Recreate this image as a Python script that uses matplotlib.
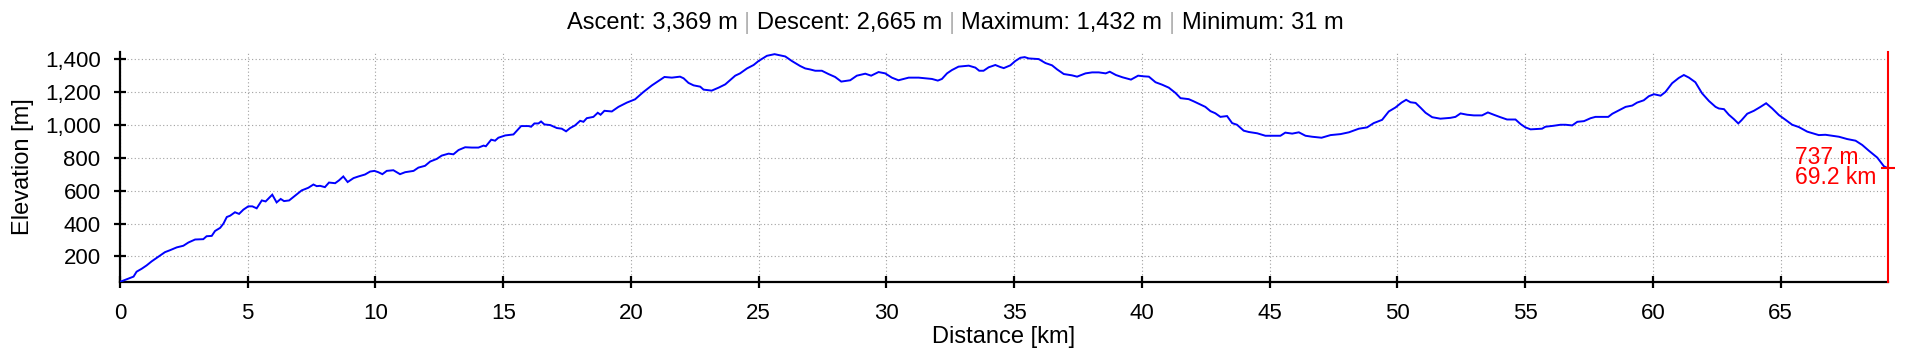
import matplotlib
matplotlib.use("Agg")
import matplotlib.pyplot as plt
from matplotlib.ticker import FuncFormatter

# ---------------- data ----------------
distance_km = [
    0.00, 0.26, 0.53, 0.65, 0.85, 1.04, 1.24, 1.50, 1.76, 1.96, 2.22, 2.48, 2.68, 2.94,
    3.26, 3.39, 3.59, 3.72, 3.92, 4.05, 4.18, 4.31, 4.50, 4.66, 4.83, 5.02, 5.18, 5.35,
    5.55, 5.70, 5.96, 6.13, 6.29, 6.42, 6.62, 6.85, 7.11, 7.37, 7.57, 7.70, 7.83, 8.02,
    8.18, 8.42, 8.57, 8.74, 8.91, 9.14, 9.33, 9.59, 9.79, 9.96, 10.11, 10.27, 10.44,
    10.70, 10.96, 11.16, 11.49, 11.68, 11.94, 12.14, 12.40, 12.59, 12.86, 13.05, 13.25,
    13.51, 13.77, 14.03, 14.23, 14.32, 14.53, 14.68, 14.81, 15.08, 15.40, 15.70, 15.99,
    16.09, 16.22, 16.38, 16.48, 16.61, 16.84, 17.10, 17.29, 17.46, 17.62, 17.81, 18.01,
    18.14, 18.27, 18.53, 18.70, 18.81, 18.96, 19.25, 19.51, 19.84, 20.16, 20.49, 20.82,
    21.08, 21.31, 21.60, 21.92, 22.06, 22.25, 22.45, 22.71, 22.84, 23.16, 23.43, 23.69,
    24.08, 24.27, 24.54, 24.80, 24.99, 25.32, 25.62, 25.84, 26.04, 26.30, 26.62, 26.82,
    27.01, 27.21, 27.47, 27.73, 27.99, 28.23, 28.58, 28.84, 29.17, 29.40, 29.69, 29.95,
    30.21, 30.47, 30.87, 31.26, 31.78, 32.01, 32.17, 32.37, 32.56, 32.82, 33.22, 33.48,
    33.63, 33.80, 34.00, 34.26, 34.45, 34.59, 34.85, 35.04, 35.24, 35.41, 35.57, 35.96,
    36.22, 36.48, 36.68, 36.94, 37.26, 37.46, 37.79, 38.05, 38.31, 38.58, 38.74, 38.98,
    39.24, 39.57, 39.85, 40.07, 40.27, 40.53, 40.79, 41.05, 41.31, 41.51, 41.83, 42.02,
    42.29, 42.48, 42.68, 42.87, 43.07, 43.33, 43.53, 43.72, 43.98, 44.18, 44.51, 44.83,
    45.42, 45.61, 45.88, 46.14, 46.40, 46.66, 47.03, 47.38, 47.77, 48.10, 48.49, 48.81,
    49.07, 49.40, 49.66, 49.92, 50.16, 50.34, 50.51, 50.71, 50.91, 51.10, 51.36, 51.68,
    52.07, 52.27, 52.47, 52.73, 52.99, 53.31, 53.54, 53.77, 54.03, 54.29, 54.62, 54.82,
    55.01, 55.21, 55.66, 55.79, 56.12, 56.38, 56.58, 56.84, 57.04, 57.30, 57.56, 57.75,
    58.25, 58.41, 58.66, 58.93, 59.19, 59.38, 59.64, 59.84, 60.04, 60.30, 60.49, 60.75,
    61.01, 61.21, 61.41, 61.66, 61.92, 62.19, 62.45, 62.58, 62.78, 62.97, 63.17, 63.34,
    63.47, 63.69, 63.95, 64.21, 64.43, 64.67, 64.93, 65.19, 65.45, 65.71, 66.04, 66.49,
    66.75, 67.28, 67.60, 67.93, 68.19, 68.45, 68.78, 69.04, 69.20,
]
elevation_m = [
    45, 61, 77, 107, 125, 145, 170, 198, 226, 238, 255, 265, 285, 303,
    305, 323, 325, 355, 374, 400, 440, 448, 469, 459, 485, 505, 505, 493,
    541, 535, 576, 529, 550, 537, 541, 570, 602, 618, 638, 628, 630, 622,
    650, 646, 663, 687, 653, 677, 687, 699, 717, 721, 713, 701, 721,
    725, 701, 713, 721, 741, 752, 778, 794, 814, 826, 822, 848,
    865, 863, 863, 875, 871, 911, 905, 923, 937, 943, 994, 994,
    990, 1010, 1010, 1022, 1004, 1000, 982, 978, 962, 982, 998, 1026,
    1020, 1042, 1050, 1075, 1063, 1087, 1083, 1111, 1137, 1157, 1202, 1242,
    1269, 1293, 1289, 1295, 1285, 1257, 1242, 1234, 1216, 1210, 1228, 1248,
    1301, 1315, 1345, 1366, 1390, 1422, 1432, 1425, 1418, 1390, 1360, 1345,
    1339, 1331, 1331, 1311, 1293, 1265, 1273, 1301, 1313, 1301, 1323, 1315,
    1289, 1273, 1289, 1289, 1281, 1271, 1281, 1315, 1335, 1356, 1362, 1350,
    1331, 1331, 1352, 1366, 1354, 1347, 1364, 1390, 1410, 1414, 1406, 1402,
    1378, 1364, 1339, 1311, 1303, 1295, 1315, 1321, 1321, 1315, 1325, 1305,
    1291, 1277, 1301, 1297, 1295, 1261, 1246, 1228, 1196, 1164, 1158, 1145,
    1125, 1111, 1085, 1072, 1050, 1055, 1012, 1002, 966, 958, 950, 935,
    935, 954, 948, 956, 935, 929, 923, 939, 945, 956, 978, 986,
    1012, 1032, 1083, 1107, 1137, 1154, 1139, 1135, 1105, 1075, 1048, 1039,
    1044, 1050, 1071, 1063, 1059, 1059, 1077, 1063, 1048, 1034, 1034, 1006,
    986, 974, 978, 990, 996, 1002, 1002, 998, 1020, 1024, 1042, 1050,
    1050, 1069, 1089, 1111, 1119, 1137, 1151, 1176, 1188, 1179, 1202, 1255,
    1287, 1305, 1289, 1261, 1194, 1147, 1111, 1101, 1097, 1063, 1036, 1010,
    1030, 1069, 1087, 1111, 1133, 1101, 1061, 1032, 1002, 988, 960, 939,
    941, 929, 915, 905, 879, 844, 802, 749, 737,
]

cursor_km = 69.2
cursor_m = 737
cursor_labels = ["737 m", "69.2 km"]
x_ticks = [0, 5, 10, 15, 20, 25, 30, 35, 40, 45, 50, 55, 60, 65]
y_ticks = [200, 400, 600, 800, 1000, 1200, 1400]
title_parts = ["Ascent: 3,369 m", "Descent: 2,665 m", "Maximum: 1,432 m", "Minimum: 31 m"]
x_label = "Distance [km]"
y_label = "Elevation [m]"

# ---------------- figure ----------------
plt.rcParams['font.family'] = ['Liberation Sans', 'DejaVu Sans']
FS_TICK = 16
FS_TEXT = 17
FS_CURSOR = 16.5
W, H = 1910, 361
fig = plt.figure(figsize=(W / 100, H / 100), dpi=100)
fig.patch.set_facecolor('white')

left_px, right_px, top_px, bottom_px = 120, 1888, 51.7, 281.7
ax = fig.add_axes([left_px / W, (H - bottom_px) / H,
                   (right_px - left_px) / W, (bottom_px - top_px) / H])

ax.plot(distance_km, elevation_m, color='#0000ff', lw=1.4, solid_joinstyle='miter', zorder=3)

ax.set_xlim(0, cursor_km)
ax.set_ylim(46, 1447)
ax.set_xticks(x_ticks)
ax.set_yticks(y_ticks)
ax.yaxis.set_major_formatter(FuncFormatter(lambda v, p: f"{int(v):,}"))

for s in ['top', 'right']:
    ax.spines[s].set_visible(False)
for s in ['left', 'bottom']:
    ax.spines[s].set_linewidth(1.6)
    ax.spines[s].set_color('black')

ax.tick_params(axis='both', direction='inout', length=9, width=1.6, labelsize=FS_TICK, colors='black')
ax.tick_params(axis='y', pad=9.5)
ax.tick_params(axis='x', pad=10.5)

ax.grid(True, color='#a0a0a0', linestyle=(0, (1, 2.2)), linewidth=0.8)
ax.set_axisbelow(True)

# cursor line and marker
ax.axvline(cursor_km, color='#ff0000', lw=1.5, zorder=4, clip_on=False)
ax.plot([cursor_km], [cursor_m], marker='_', color='#ff0000', markersize=10,
        markeredgewidth=1.5, clip_on=False, zorder=5)
ax.annotate(cursor_labels[0], (cursor_km, cursor_m), xytext=(-93, 4),
            textcoords='offset pixels', ha='left', va='baseline', color='#ff0000',
            fontsize=FS_CURSOR, annotation_clip=False)
ax.annotate(cursor_labels[1], (cursor_km, cursor_m), xytext=(-93, -16),
            textcoords='offset pixels', ha='left', va='baseline', color='#ff0000',
            fontsize=FS_CURSOR, annotation_clip=False)

ax.set_xlabel(x_label, fontsize=FS_TEXT, va='baseline')
ax.xaxis.set_label_coords(0.5, -(343 - bottom_px) / (bottom_px - top_px))
ax.set_ylabel(y_label, fontsize=FS_TEXT, va='center')
ax.yaxis.set_label_coords(-(left_px - 22.7) / (right_px - left_px), 0.5)

# ---------------- title with gray separators ----------------
renderer = fig.canvas.get_renderer()
sep = "|"
full = (" " + sep + " ").join(title_parts)


def text_width(s):
    t = fig.text(0, 0, s, fontsize=FS_TEXT)
    w = t.get_window_extent(renderer=renderer).width
    t.remove()
    return w


pieces = []
prefix = ""
for i, part in enumerate(title_parts):
    if i > 0:
        prefix_sep = prefix + " "
        w_all = text_width(prefix_sep + sep)
        pieces.append((sep, w_all - text_width(sep), '#b4b4b4'))
        prefix = prefix_sep + sep + " "
    w_all = text_width(prefix + part)
    pieces.append((part, w_all - text_width(part), 'black'))
    prefix = prefix + part

total_w = text_width(full)
x0 = W / 2 - total_w / 2
title_baseline = 29
for s, off, col in pieces:
    fig.text((x0 + off) / W, (H - title_baseline) / H, s, fontsize=FS_TEXT,
             color=col, ha='left', va='baseline')

fig.savefig('out.png', dpi=100, facecolor='white')
